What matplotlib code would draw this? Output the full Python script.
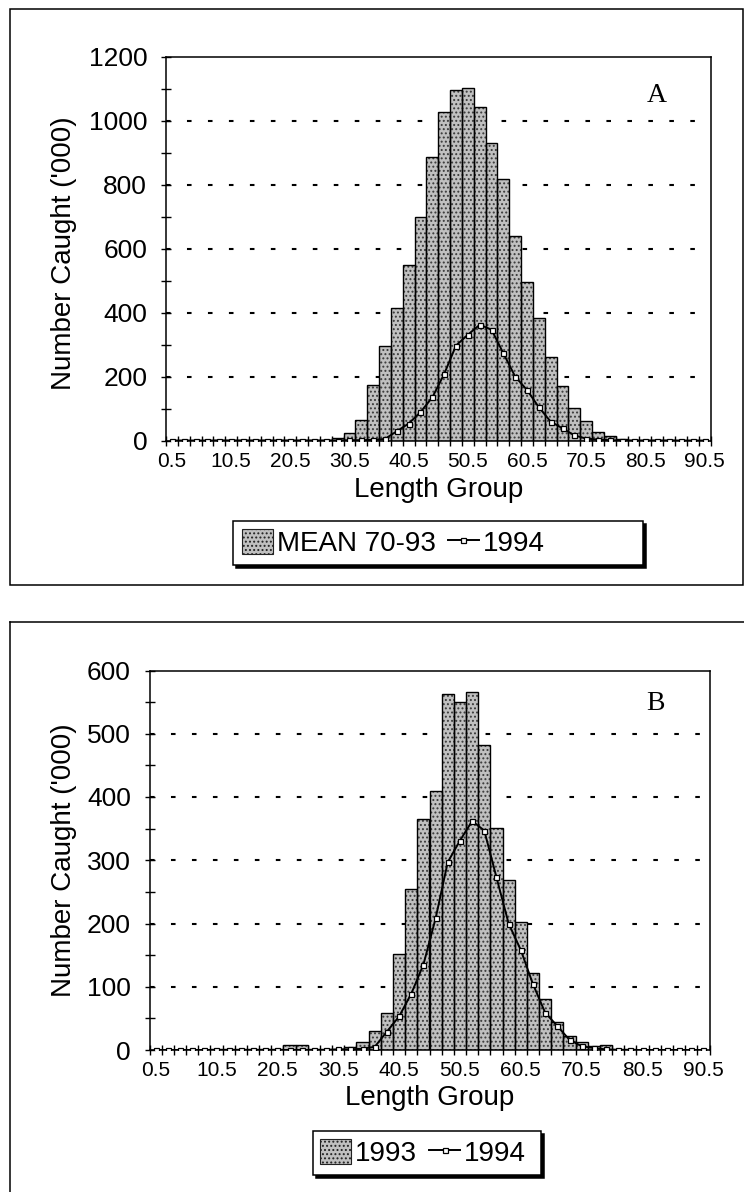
import matplotlib
matplotlib.use('Agg')
import matplotlib.pyplot as plt
from matplotlib.patches import Rectangle, Patch
from matplotlib.lines import Line2D
from matplotlib.ticker import MultipleLocator

W, H = 744, 1192

# Length groups (2 cm classes), one bar per group
length_groups = [0.5, 2.5, 4.5, 6.5, 8.5, 10.5, 12.5, 14.5, 16.5, 18.5,
                 20.5, 22.5, 24.5, 26.5, 28.5, 30.5, 32.5, 34.5, 36.5, 38.5,
                 40.5, 42.5, 44.5, 46.5, 48.5, 50.5, 52.5, 54.5, 56.5, 58.5,
                 60.5, 62.5, 64.5, 66.5, 68.5, 70.5, 72.5, 74.5, 76.5, 78.5,
                 80.5, 82.5, 84.5, 86.5, 88.5, 90.5]

# Numbers caught ('000) per length group
mean_70_93 = [0, 0, 0, 0, 1, 1, 1, 1, 1, 1,
              1, 2, 2, 3, 8, 23, 63, 173, 296, 416,
              549, 698, 887, 1028, 1097, 1102, 1045, 932, 817, 640,
              496, 382, 262, 172, 102, 62, 26, 14, 5, 3,
              2, 1, 1, 0, 0, 0]

catch_1993 = [0, 0, 0, 0, 0, 1, 1, 1, 1, 1,
              1, 8, 8, 2, 1, 2, 5, 13, 30, 58,
              152, 255, 365, 410, 563, 550, 566, 483, 351, 268,
              202, 121, 80, 45, 22, 13, 6, 8, 2, 1,
              0, 0, 0, 0, 0, 0]

catch_1994 = [0, 0, 0, 0, 0, 0, 0, 0, 0, 0,
              0, 0, 0, 0, 0, 1, 1, 2, 5, 29,
              53, 89, 135, 208, 297, 331, 362, 347, 273, 200,
              158, 104, 59, 38, 16, 6, 3, 1, 0, 0,
              0, 0, 0, 0, 0, 0]

plt.rcParams['font.family'] = ['Liberation Sans', 'DejaVu Sans']
plt.rcParams['lines.scale_dashes'] = False
plt.rcParams['hatch.linewidth'] = 0.9

BAR_FILL = '#c0c0c0'
DOTS = '#3a3a3a'


def px(x, y):
    return x / W, 1 - y / H


def rect(fig, l, t, r, b, **kw):
    fig.add_artist(Rectangle(px(l, b), (r - l) / W, (b - t) / H,
                             transform=fig.transFigure, **kw))


def line(fig, x0, y0, x1, y1, lw=1.1):
    fig.add_artist(Line2D([x0 / W, x1 / W], [1 - y0 / H, 1 - y1 / H],
                          transform=fig.transFigure, color='black', lw=lw))


def legend_box(fig, l, t, r, b):
    # white box with a solid drop shadow to the lower right
    rect(fig, l + 3, t + 3, r + 3, b + 3, facecolor='black', edgecolor='black', lw=1.1, zorder=5)
    rect(fig, l, t, r, b, facecolor='white', edgecolor='black', lw=1.1, zorder=6)


def draw_panel(fig, box, bars, ymax, ystep, letter, letter_xy, ylabel_xy,
               xlabel_xy, bar_label, legend_xy, lbox):
    l, t, r, b = box
    ax = fig.add_axes([l / W, 1 - b / H, (r - l) / W, (b - t) / H])
    x = list(range(len(length_groups)))

    # stippled fill first, then the black outlines on top
    ax.bar(x, bars, width=1.0, color=BAR_FILL, hatch='....', edgecolor=DOTS,
           linewidth=0, zorder=2)
    ax.bar(x, bars, width=1.0, fill=False, edgecolor='black', linewidth=1.0, zorder=3)
    ax.plot(x, catch_1994, color='black', lw=1.4, marker='s', ms=3.6,
            mfc='white', mec='black', mew=0.9, zorder=4)

    for v in range(ystep, ymax, ystep):
        ax.axhline(v, color='black', lw=1.5, ls=(0, (3.3, 11.8)), zorder=1)

    ax.set_xlim(-0.5, len(x) - 0.5)
    ax.set_ylim(0, ymax)
    ax.set_yticks(range(0, ymax + 1, ystep))
    ax.yaxis.set_minor_locator(MultipleLocator(ystep / 2))
    ax.tick_params(axis='y', which='both', direction='inout', length=7, width=1,
                   labelsize=19, pad=10)

    ax.set_xticks(x[::5])
    ax.set_xticklabels([f'{v:g}' for v in length_groups[::5]])
    ax.set_xticks([i - 0.5 for i in range(len(x) + 1)], minor=True)
    ax.tick_params(axis='x', which='major', length=0, labelsize=15, pad=8)
    ax.tick_params(axis='x', which='minor', direction='inout', length=7, width=1)
    for s in ax.spines.values():
        s.set_linewidth(1.1)

    fig.text(*px(*letter_xy), letter, family='Liberation Serif', fontsize=20,
             ha='center', va='center')
    fig.text(*px(*ylabel_xy), "Number Caught ('000)", rotation=90, fontsize=20,
             ha='center', va='center')
    fig.text(*px(*xlabel_xy), 'Length Group', fontsize=20, ha='center', va='center')

    legend_box(fig, *lbox)
    handles = [
        Patch(facecolor=BAR_FILL, edgecolor='#222222', hatch='....', lw=0.8, label=bar_label),
        Line2D([], [], color='black', lw=1.4, marker='s', ms=3.6, mfc='white',
               mec='black', mew=0.9, label='1994'),
    ]
    leg = fig.legend(handles=handles, loc='center left', bbox_to_anchor=px(*legend_xy),
                     ncol=2, frameon=False, fontsize=20, handlelength=1.1,
                     handleheight=1.0, handletextpad=0.15, columnspacing=0.45,
                     borderpad=0, borderaxespad=0)
    leg.set_zorder(7)
    return ax


fig = plt.figure(figsize=(W / 100, H / 100), dpi=100)

# outer panel frames; the lower one runs off the right and bottom edges
rect(fig, 9.5, 8.5, 742.5, 584.5, fill=False, edgecolor='black', lw=1.1)
line(fig, 9.5, 622.5, 744, 622.5)
line(fig, 9.5, 622.5, 9.5, 1192)

draw_panel(fig, (166, 57, 710.5, 440.5), mean_70_93, 1200, 200, 'A', (657, 95),
           (64, 253), (439, 490), 'MEAN 70-93', (242, 543), (232.5, 521, 643, 565))
draw_panel(fig, (149.5, 670.5, 709.5, 1050), catch_1993, 600, 100, 'B', (655, 703),
           (64, 860), (430, 1098), '1993', (320, 1153), (313, 1131, 541, 1175))

fig.savefig('out.png', dpi=100)
